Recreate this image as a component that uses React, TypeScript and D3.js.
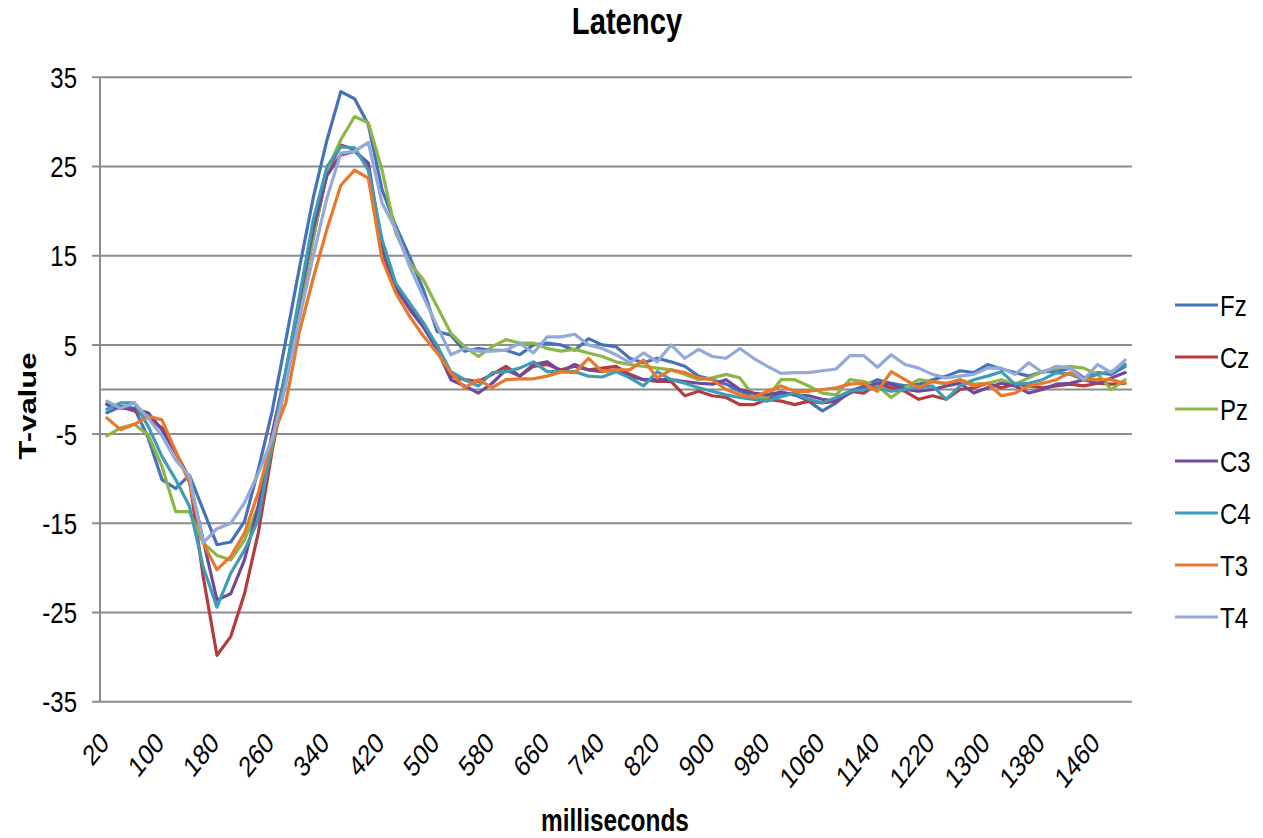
import React from 'react';
import * as d3 from 'd3';

const milliseconds = [
  20, 40, 60, 80, 100, 120, 140, 160, 180, 200, 220, 240, 260, 280, 300, 320, 340, 360, 380, 400,
  420, 440, 460, 480, 500, 520, 540, 560, 580, 600, 620, 640, 660, 680, 700, 720, 740, 760, 780, 800,
  820, 840, 860, 880, 900, 920, 940, 960, 980, 1000, 1020, 1040, 1060, 1080, 1100, 1120, 1140, 1160,
  1180, 1200, 1220, 1240, 1260, 1280, 1300, 1320, 1340, 1360, 1380, 1400, 1420, 1440, 1460, 1480, 1500,
];

const xTickLabels = [
  '20', '100', '180', '260', '340', '420', '500', '580', '660', '740', '820', '900', '980', '1060',
  '1140', '1220', '1300', '1380', '1460',
];

const yTicks = [-35, -25, -15, -5, 5, 15, 25, 35];

const seriesNames = ['Fz', 'Cz', 'Pz', 'C3', 'C4', 'T3', 'T4'];
const seriesColors = ['#4672B8', '#B43C3E', '#8DB548', '#71499A', '#3E9CB6', '#E8782C', '#93A9D7'];

const fz = [
  -2.6, -1.9, -2.1, -5.4, -10.1, -11.1, -9.6, -13.5, -17.4, -17.1, -14.8, -9.0, -2.5, 5.5, 13.7, 21.5,
  28.0, 33.4, 32.6, 29.7, 22.4, 18.3, 14.9, 11.2, 6.5,
  6.1, 4.3, 4.6, 4.4, 4.4, 3.9, 5.0, 5.2, 5.0, 4.4, 5.7, 5.0, 4.8, 3.5, 3.0, 3.5, 3.1, 2.6, 1.5, 1.1,
  0.6, -0.2, -0.7, -1.1, -0.4, -0.6,
  -1.3, -2.4, -1.5, -0.2, 0.4, 1.1, 0.7, 0.4, 0.6, 1.1, 1.5, 2.1, 1.9, 2.8, 2.3, 1.9, 1.5, 2.0, 2.0,
  2.4, 1.3, 1.9, 1.7, 2.6,
];

const cz = [
  -1.6, -1.9, -2.4, -3.2, -4.3, -7.0, -10.0, -21.0, -29.8, -27.7, -22.9, -16.1, -7.0, 1.0, 9.0, 17.0,
  24.3, 27.4, 26.9, 25.0, 14.9, 11.2, 9.3, 7.1, 4.9,
  1.5, 1.1, 0.9, 1.7, 2.6, 1.5, 2.6, 2.8, 2.2, 2.6, 2.2, 2.4, 2.6, 1.7, 1.1, 0.9, 0.9, -0.7, -0.2,
  -0.7, -0.9, -1.7, -1.7, -1.1, -1.3, -1.7,
  -1.3, -1.5, -1.3, -0.2, -0.4, 0.6, 0.2, -0.2, -1.1, -0.7, -1.1, 0.0, 0.2, 0.7, 0.2, 0.6, 0.4, 0.2,
  0.4, 0.6, 0.4, 0.7, 0.6, 0.7,
];

const pz = [
  -5.2, -4.3, -3.9, -5.1, -8.6, -13.7, -13.7, -17.2, -18.6, -19.1, -16.9, -13.1, -6.5, 1.5, 9.5, 17.0,
  24.5, 28.0, 30.6, 29.9, 24.6, 17.5, 14.2, 12.3, 9.3,
  6.3, 4.8, 3.7, 4.8, 5.6, 5.2, 5.2, 4.6, 4.3, 4.5, 4.1, 3.7, 3.1, 2.8, 2.6, 2.4, 2.2, 1.7, 1.1, 1.3,
  1.7, 1.3, -0.7, -0.9, 1.1, 1.1,
  0.4, -0.4, -0.6, 1.1, 0.9, 0.4, -0.9, 0.2, 1.1, 0.9, 0.6, 1.1, 0.6, 0.7, 1.1, 0.6, 1.3, 2.0, 2.4,
  2.6, 2.4, 1.7, 0.0, 1.1,
];

const c3 = [
  -1.7, -2.1, -2.2, -2.6, -4.5, -7.1, -10.1, -16.9, -23.6, -22.9, -19.1, -13.1, -5.0, 2.0, 10.0, 18.0,
  24.0, 26.3, 26.7, 25.4, 16.0, 11.5, 9.0, 7.0, 4.5,
  1.1, 0.4, -0.4, 0.7, 2.2, 1.5, 2.8, 3.1, 2.0, 2.8, 2.2, 2.0, 2.2, 1.5, 1.1, 1.1, 1.1, 0.9, 0.7, 0.6,
  1.1, 0.0, -0.4, -0.6, -0.3, -0.6,
  -0.7, -1.1, -1.3, -0.4, 0.2, 0.7, 0.6, 0.0, -0.2, 0.0, 0.4, 0.7, -0.4, 0.2, 0.7, 0.4, -0.4, 0.0, 0.6,
  0.7, 1.1, 0.7, 1.3, 1.9,
];

const c4 = [
  -2.2, -1.5, -1.5, -4.1, -7.5, -10.1, -13.1, -19.9, -24.4, -20.6, -18.0, -14.6, -6.0, 2.0, 10.5, 19.0,
  25.0, 27.2, 27.1, 24.6, 16.8, 11.9, 9.7, 7.5, 4.9,
  2.0, 1.1, 0.4, 1.9, 2.0, 2.4, 3.1, 2.0, 2.0, 2.0, 1.5, 1.4, 2.0, 1.3, 0.4, 2.0, 1.1, 0.7, 0.2, -0.2,
  -0.6, -0.9, -1.1, -1.3, -0.8, -0.4,
  -1.1, -1.5, -0.9, -0.2, 0.0, 0.2, -0.2, 0.0, 0.2, 0.4, -1.1, 0.4, 1.1, 1.5, 2.0, 0.6, 0.7, 1.1, 1.9,
  1.7, 1.1, 1.7, 2.0, 2.8,
];

const t3 = [
  -3.2, -4.5, -3.9, -3.0, -3.4, -6.9, -10.5, -17.2, -20.2, -18.7, -16.1, -11.6, -5.5, -1.5, 6.5, 12.5,
  18.0, 22.9, 24.6, 23.7, 14.6, 10.8, 8.2, 6.0, 4.1,
  1.9, 0.2, 1.1, 0.2, 1.1, 1.2, 1.2, 1.5, 2.0, 1.9, 3.5, 2.0, 2.2, 2.2, 3.3, 1.3, 2.2, 1.9, 1.3, 1.1,
  0.0, -0.6, -0.9, -0.2, 0.4, -0.2,
  -0.2, 0.0, 0.2, 0.6, 0.7, -0.2, 2.0, 1.1, 0.2, 0.9, 0.7, 1.1, 0.4, 0.7, -0.7, -0.4, 0.4, 0.7, 1.1,
  1.9, 1.1, 1.1, 1.1, 0.7,
];

const t4 = [
  -1.3, -2.1, -1.5, -3.2, -5.2, -7.9, -9.7, -17.2, -15.6, -15.0, -12.7, -9.4, -5.6, 0.5, 8.0, 15.0,
  21.5, 26.5, 26.7, 27.7, 20.9, 17.9, 13.8, 10.4, 7.1,
  3.9, 4.6, 4.3, 4.3, 4.4, 5.2, 4.1, 5.9, 5.9, 6.2, 5.0, 4.6, 3.9, 3.0, 4.1, 3.1, 5.0, 3.5, 4.5, 3.7,
  3.5, 4.6, 3.5, 2.6, 1.8, 1.9,
  1.9, 2.1, 2.3, 3.8, 3.8, 2.5, 3.9, 2.8, 2.4, 1.7, 1.3, 1.5, 1.7, 2.4, 2.4, 1.7, 3.0, 1.9, 2.6, 2.4,
  1.1, 2.8, 1.9, 3.3,
];

const seriesValues = [fz, cz, pz, c3, c4, t3, t4];

const FONT = '"Liberation Sans", Arial, Helvetica, sans-serif';
const SX = 0.8; // horizontal squeeze of all text, as in the reference

export default function App() {
  const W = 1263;
  const H = 838;
  const plotLeft = 100;
  const plotRight = 1132;
  const plotTop = 77.3;
  const plotBottom = 701.7;

  const x = d3.scalePoint<number>().domain(milliseconds).range([plotLeft, plotRight]).padding(0.5);
  const y = d3.scaleLinear().domain([-35, 35]).range([plotBottom, plotTop]);

  const line = d3
    .line<number>()
    .x((_, i) => x(milliseconds[i]) as number)
    .y((d) => y(d));

  const gridColor = '#8C8C8C';

  return (
    <svg
      width={W}
      height={H}
      style={{ position: 'absolute', left: 0, top: 0, display: 'block', background: '#fff' }}
      fontFamily={FONT}
    >
      <rect x={0} y={0} width={W} height={H} fill="#fff" />

      {/* title */}
      <text
        transform={`translate(627,33.5) scale(${SX},1)`}
        textAnchor="middle"
        fontSize={36.5}
        fontWeight="bold"
        fill="#000"
      >
        Latency
      </text>

      {/* gridlines + y ticks */}
      {yTicks.map((t) => (
        <g key={t}>
          <line x1={plotLeft - 8} x2={plotRight} y1={y(t)} y2={y(t)} stroke={gridColor} strokeWidth={2} />
          <text
            transform={`translate(77,${y(t) + 10.7}) scale(${SX},1)`}
            textAnchor="end"
            fontSize={30}
            fill="#000"
          >
            {t}
          </text>
        </g>
      ))}

      {/* zero axis */}
      <line x1={plotLeft} x2={plotRight} y1={y(0)} y2={y(0)} stroke={gridColor} strokeWidth={2} />
      {/* y axis */}
      <line x1={plotLeft} x2={plotLeft} y1={plotTop} y2={plotBottom} stroke={gridColor} strokeWidth={2} />

      {/* x tick labels */}
      {xTickLabels.map((lab) => {
        const px = (x(+lab) as number) + 3.5;
        return (
          <text
            key={lab}
            transform={`translate(${px},744.5) scale(${SX},1) rotate(-45)`}
            textAnchor="end"
            fontSize={29}
            fill="#000"
          >
            {lab}
          </text>
        );
      })}

      {/* series */}
      {seriesValues.map((vals, k) => (
        <path
          key={seriesNames[k]}
          d={line(vals) || ''}
          fill="none"
          stroke={seriesColors[k]}
          strokeWidth={3.2}
          strokeLinejoin="round"
          strokeLinecap="round"
        />
      ))}

      {/* axis titles */}
      <text
        transform={`translate(615,831) scale(${SX},1)`}
        textAnchor="middle"
        fontSize={30.5}
        fontWeight="bold"
        fill="#000"
      >
        milliseconds
      </text>
      <text
        transform={`translate(36,406) scale(${SX},1) rotate(-90)`}
        textAnchor="middle"
        fontSize={31}
        fontWeight="bold"
        fill="#000"
      >
        T-value
      </text>

      {/* legend */}
      {seriesNames.map((name, k) => {
        const cy = 305 + k * 52;
        return (
          <g key={name}>
            <line x1={1175} x2={1218} y1={cy} y2={cy} stroke={seriesColors[k]} strokeWidth={3.2} />
            <text
              transform={`translate(1220,${cy + 10.5}) scale(${SX},1)`}
              fontSize={30}
              fill="#000"
            >
              {name}
            </text>
          </g>
        );
      })}
    </svg>
  );
}
